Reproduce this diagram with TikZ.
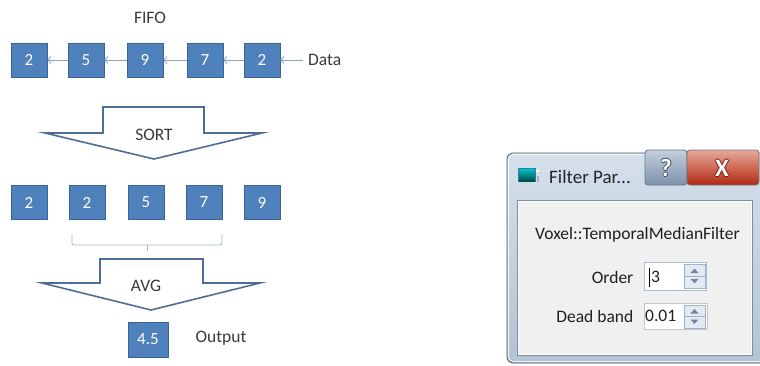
\documentclass[tikz,border=0pt]{standalone}
\usepackage{fontspec}
\setmainfont{Carlito}
\usetikzlibrary{arrows.meta}

\definecolor{boxblue}{HTML}{4F81BD}
\definecolor{boxedge}{HTML}{3A6496}
\definecolor{flowline}{HTML}{8FA5C4}
\definecolor{blockedge}{HTML}{4E6E9A}
\definecolor{bracecol}{HTML}{A3B8D2}
\definecolor{inktext}{HTML}{3A3A3A}
\definecolor{framehi}{HTML}{D5E0EB}
\definecolor{framelo}{HTML}{B3C3D4}
\definecolor{frameedge}{HTML}{4A5560}
\definecolor{clientbg}{HTML}{F0F0F0}
\definecolor{clientedge}{HTML}{7F8E9E}
\definecolor{spinedge}{HTML}{A9BFD9}
\definecolor{spinbtn}{HTML}{E4EAF1}
\definecolor{spinmark}{HTML}{6F87A6}
\definecolor{helptop}{HTML}{C3CFDC}
\definecolor{helpbot}{HTML}{7D92AA}
\definecolor{closetop}{HTML}{E8A898}
\definecolor{closemid}{HTML}{D2533A}
\definecolor{closebot}{HTML}{B02A12}
\definecolor{glyphshadow}{HTML}{3C4A5A}

\tikzset{
  cell/.style={draw=boxedge, line width=0.8pt, fill=boxblue, minimum width=36pt,
    minimum height=34pt, inner sep=0pt, text=white, font=\fontsize{17}{20}\selectfont},
  lbl/.style={inner sep=1pt, text=inktext, font=\fontsize{17.5}{20}\selectfont},
  flow/.style={draw=flowline, line width=0.9pt, -{Straight Barb[length=3pt,width=7pt]}},
  blockarrow/.style={draw=blockedge, fill=white, line width=1.6pt, line join=miter},
  dlgtext/.style={inner sep=0pt, text=black!88, font=\fontsize{17.5}{20}\selectfont},
  spinbox/.style={draw=spinedge, fill=white, line width=0.8pt},
  spinbtnbox/.style={draw=spinedge!80!gray, fill=spinbtn, line width=0.6pt},
  spinmarkstyle/.style={fill=spinmark},
  capglyph/.style={inner sep=0pt, font=\fontsize{25}{26}\selectfont\bfseries}
}

\begin{document}
\begin{tikzpicture}[x=1pt,y=-1pt]
\useasboundingbox (0,0) rectangle (760,365);
\fill[white] (0,0) rectangle (760,365);

% ---- FIFO buffer ----
\node[lbl] (fifotitle) at (150,18) {FIFO};
\node[cell] (f1) at (29,60) {2};
\node[cell] (f2) at (86,60) {5};
\node[cell] (f3) at (145,60) {9};
\node[cell] (f4) at (205,60) {7};
\node[cell] (f5) at (262,60) {2};
\node[lbl, anchor=west, inner sep=5pt] (data) at (303,60) {Data};
\draw[flow] (data.west) -- (f5.east);
\draw[flow] (f5.west) -- (f4.east);
\draw[flow] (f4.west) -- (f3.east);
\draw[flow] (f3.west) -- (f2.east);
\draw[flow] (f2.west) -- (f1.east);

% ---- SORT block arrow ----
\draw[blockarrow] (103,107) -- (204,107) -- (204,133) -- (262,133) -- (154,159)
  -- (45,133) -- (103,133) -- cycle;
\node[lbl] (sort) at (154,135) {SORT};

% ---- sorted window ----
\node[cell] (s1) at (29,202.5) {2};
\node[cell] (s2) at (87,202.5) {2};
\node[cell] (s3) at (146,202.5) {5};
\node[cell] (s4) at (204,202.5) {7};
\node[cell] (s5) at (262,202.5) {9};

% bracket over the three middle values
\draw[bracecol, line width=0.9pt, rounded corners=2pt]
  (72,234) -- (72,245) -- (222,245) -- (222,234);
\draw[bracecol, line width=0.9pt] (147,245) -- (147,251);

% ---- AVG block arrow ----
\draw[blockarrow] (100,259) -- (203,259) -- (203,283) -- (260,283) -- (151,310)
  -- (42,283) -- (100,283) -- cycle;
\node[lbl] (avg) at (146,286) {AVG};

% ---- result ----
\node[cell, minimum width=40pt, minimum height=35pt] (out) at (148,339.5) {4.5};
\node[lbl] (outlbl) at (221,338) {Output};

% ---- parameter dialog ----
\begin{scope}
\clip (0,0) rectangle (760,365);
\shade[top color=framehi, bottom color=framelo, draw=frameedge, line width=0.8pt,
  rounded corners=6pt] (507,153) rectangle (766,363);
\draw[white!70!framehi, line width=0.8pt, rounded corners=5pt] (508.5,154.5) rectangle (764,361.5);
% client area
\fill[clientbg] (517,200) rectangle (752,355);
\draw[clientedge, line width=0.8pt] (517,200) rectangle (752,355);
\draw[white, line width=0.6pt] (518,201) rectangle (751,354);

% title bar icon
\fill[teal!70!blue!80] (518,168) rectangle (536,182);
\shade[top color=cyan!50!teal, bottom color=teal!60!black] (519,169) rectangle (535,181);
\fill[white] (536,170) rectangle (539,172);
\fill[gray!60] (537,176) rectangle (539,182);
\node[dlgtext, anchor=west, font=\fontsize{19}{22}\selectfont, text=black!85] (title) at (549,177) {Filter Par...};

% help button
\shade[top color=helptop, bottom color=helpbot, draw=frameedge!80,
  line width=0.8pt, rounded corners=3pt] (645,150) -- (645,185) -- (687,185) -- (687,150) -- cycle;
\foreach \dx/\dy in {-0.9/0,0.9/0,0/-0.9,0/0.9}
  \node[capglyph, text=glyphshadow] at (666+\dx,168+\dy) {?};
\node[capglyph, text=white] (help) at (666,168) {?};
% close button
\shade[top color=closetop, middle color=closemid, bottom color=closebot,
  draw=frameedge!80, line width=0.8pt, rounded corners=3pt]
  (687,150) -- (687,185) -- (759,185) -- (759,150) -- cycle;
\foreach \dx/\dy in {-0.9/0,0.9/0,0/-0.9,0/0.9}
  \node[capglyph, text=closebot!70!black] at (722+\dx,168+\dy) {X};
\node[capglyph, text=white] (close) at (722,168) {X};
\end{scope}

% dialog contents
\node[dlgtext] (filtername) at (637.5,235) {Voxel::TemporalMedianFilter};
\node[dlgtext, anchor=east] (orderlbl) at (633.5,277) {Order};
\node[dlgtext, anchor=east] (deadlbl) at (633.5,316) {Dead band};

% Order spin box
\draw[spinbox] (644,262) rectangle (706,290);
\node[dlgtext, anchor=west] (orderval) at (651,277) {3};
\draw[black, line width=0.8pt] (649.5,268) -- (649.5,287);
\draw[spinbtnbox] (684,264) rectangle (705,288);
\draw[spinedge!80!gray, line width=0.5pt] (684,276) -- (705,276);
\fill[spinmarkstyle] (690.5,273) -- (698.5,273) -- (694.5,268.5) -- cycle;
\fill[spinmarkstyle] (690.5,279) -- (698.5,279) -- (694.5,283.5) -- cycle;

% Dead band spin box
\draw[spinbox, draw=gray!45] (644,303) rectangle (707,329);
\node[dlgtext, anchor=west] (deadval) at (645,316) {0.01};
\draw[spinbtnbox] (684,305) rectangle (705,328);
\draw[spinedge!80!gray, line width=0.5pt] (684,316.5) -- (705,316.5);
\fill[spinmarkstyle] (690.5,313.5) -- (698.5,313.5) -- (694.5,309) -- cycle;
\fill[spinmarkstyle] (690.5,319.5) -- (698.5,319.5) -- (694.5,324) -- cycle;
\end{tikzpicture}
\end{document}
